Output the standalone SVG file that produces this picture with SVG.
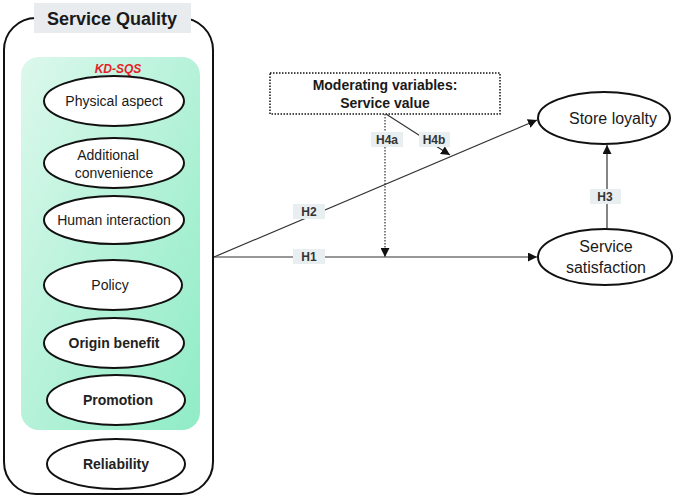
<svg xmlns="http://www.w3.org/2000/svg" width="676" height="497" viewBox="0 0 676 497">
<defs>
<linearGradient id="g" x1="0" y1="0" x2="1" y2="1">
<stop offset="0" stop-color="#dcf8ec"/>
<stop offset="1" stop-color="#8fecc6"/>
</linearGradient>
<marker id="ah" viewBox="0 0 10 10" refX="10" refY="5" markerWidth="9" markerHeight="9" markerUnits="userSpaceOnUse" orient="auto">
<path d="M0,0 L10,5 L0,10 z" fill="#111"/>
</marker>
</defs>
<style>
text{font-family:"Liberation Sans",Arial,sans-serif;fill:#1a1a1a}
.el{fill:#fff;stroke:#111;stroke-width:2}
.et{font-size:14px;text-anchor:middle}
.eb{font-size:14px;text-anchor:middle;font-weight:bold;fill:#222}
.lb{fill:#e9eef0}
.lt{font-size:12px;font-weight:bold;text-anchor:middle;fill:#333}
.ln{stroke:#333;stroke-width:1.2;fill:none}
</style>
<g id="service-quality">
<rect x="4" y="18" width="209" height="476" rx="32" fill="#fff" stroke="#111" stroke-width="2"/>
<rect x="34" y="3" width="157" height="30" fill="#e8ecee"/>
<text x="112" y="25" font-size="18" font-weight="bold" text-anchor="middle" fill="#111">Service Quality</text>
</g>
<g id="kd-sqs">
<rect x="21" y="57" width="179" height="373" rx="18" fill="url(#g)"/>
<text x="118" y="73" font-size="12" font-weight="bold" font-style="italic" text-anchor="middle" style="fill:#e8202a">KD-SQS</text>
</g>
<g id="physical"><ellipse class="el" cx="114" cy="101" rx="70" ry="25"/><text class="et" x="114" y="106">Physical aspect</text></g>
<g id="additional"><ellipse class="el" cx="114" cy="163" rx="70" ry="25"/><text class="et" x="108" y="160">Additional</text><text class="et" x="114" y="178">convenience</text></g>
<g id="human"><ellipse class="el" cx="114" cy="220" rx="70" ry="24"/><text class="et" x="114" y="225">Human interaction</text></g>
<g id="policy"><ellipse class="el" cx="113" cy="285" rx="69" ry="25"/><text class="et" x="110" y="290">Policy</text></g>
<g id="origin"><ellipse class="el" cx="114" cy="343" rx="70" ry="25"/><text class="eb" x="114" y="348">Origin benefit</text></g>
<g id="promotion"><ellipse class="el" cx="116" cy="400" rx="69" ry="25"/><text class="eb" x="118" y="405">Promotion</text></g>
<g id="reliability"><ellipse class="el" cx="116" cy="464" rx="69" ry="25"/><text class="eb" x="116" y="469">Reliability</text></g>
<g id="moderating">
<rect x="270" y="73" width="230" height="41" fill="#fff" stroke="#111" stroke-width="1.5" stroke-dasharray="1.5,1.5"/>
<text x="385" y="90" font-size="14" font-weight="bold" text-anchor="middle">Moderating variables:</text>
<text x="385" y="108" font-size="14" font-weight="bold" text-anchor="middle">Service value</text>
</g>
<g id="store-loyalty"><ellipse class="el" cx="604" cy="118" rx="66" ry="26"/><text x="613" y="124" font-size="16" text-anchor="middle">Store loyalty</text></g>
<g id="service-satisfaction"><ellipse class="el" cx="605" cy="257" rx="67" ry="28"/><text x="606" y="252" font-size="16" text-anchor="middle">Service</text><text x="606" y="273" font-size="16" text-anchor="middle">satisfaction</text></g>
<g id="connectors">
<line class="ln" x1="214" y1="257" x2="537" y2="257" marker-end="url(#ah)"/>
<line class="ln" x1="214" y1="257" x2="537" y2="120" marker-end="url(#ah)"/>
<line class="ln" x1="607" y1="228" x2="607" y2="145" marker-end="url(#ah)"/>
<line class="ln" x1="385" y1="114" x2="385" y2="257" stroke-dasharray="1.5,1.5" marker-end="url(#ah)"/>
<polyline class="ln" points="386,114 450,155" stroke="#888" marker-end="url(#ah)"/>
<rect class="lb" x="293" y="204" width="32" height="15"/><text class="lt" x="309" y="216">H2</text>
<rect class="lb" x="293" y="249" width="32" height="15"/><text class="lt" x="309" y="261">H1</text>
<rect class="lb" x="371" y="132" width="32" height="15"/><text class="lt" x="387" y="144">H4a</text>
<rect class="lb" x="419" y="132" width="31" height="15"/><text class="lt" x="434" y="144">H4b</text>
<rect class="lb" x="590" y="189" width="31" height="15"/><text class="lt" x="605" y="201">H3</text>
</g>
</svg>
